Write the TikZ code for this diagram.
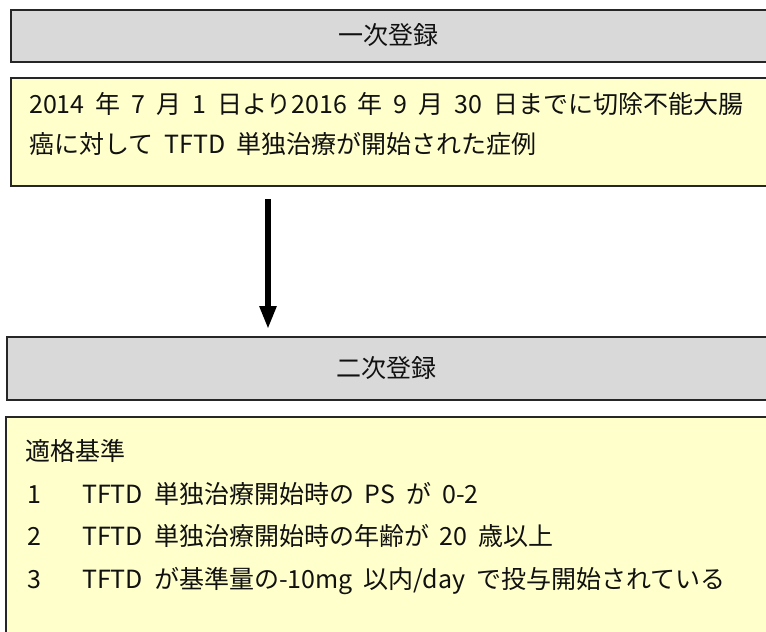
\documentclass[tikz,border=0pt]{standalone}
\usepackage{fontspec}
\setmainfont[WordSpace=1.95]{Noto Sans CJK JP}
\usetikzlibrary{arrows.meta}
\definecolor{boxgray}{HTML}{D9D9D9}
\definecolor{boxyellow}{HTML}{FFFFCC}
\definecolor{inkc}{HTML}{111111}
\begin{document}
\begin{tikzpicture}[x=1pt,y=-1pt,
  panel/.style={draw=black!85, line width=1.5pt, anchor=north west, inner sep=0pt, outer sep=0pt},
  txt/.style={font=\fontsize{25pt}{30pt}\selectfont, inner sep=0pt, text=inkc},
  flow/.style={line width=5.5pt, -{Triangle[width=16pt,length=23pt]}, shorten <=13pt, shorten >=8pt}]
\useasboundingbox (0,0) rectangle (766,632);
\clip (0,0) rectangle (766,632);
\node[panel, fill=boxgray, minimum width=780pt, minimum height=52pt] (g1) at (11,10) {};
\node[panel, fill=boxyellow, minimum width=780pt, minimum height=108pt] (y1) at (11,78) {};
\node[panel, fill=boxgray, minimum width=785pt, minimum height=63pt] (g2) at (7,337) {};
\node[panel, fill=boxyellow, minimum width=785pt, minimum height=240pt] (y2) at (6,417) {};
\node[txt, anchor=base] (h1) at (388,44) {一次登録};
\node[txt, anchor=base west] (t1) at (29,113) {2014 年 7 月 1 日より2016 年 9 月 30 日までに切除不能大腸};
\node[txt, anchor=base west] (t2) at (29,153) {癌に対して TFTD 単独治療が開始された症例};
\node[txt, anchor=base] (h2) at (386,377) {二次登録};
\node[txt, anchor=base west] (c0) at (25,460) {適格基準};
\node[txt, anchor=base west] (c1) at (27,503) {\makebox[55pt][l]{1}TFTD 単独治療開始時の PS が 0-2};
\node[txt, anchor=base west] (c2) at (27,545) {\makebox[55pt][l]{2}TFTD 単独治療開始時の年齢が 20 歳以上};
\node[txt, anchor=base west] (c3) at (27,588) {\makebox[55pt][l]{3}TFTD が基準量の-10mg 以内/day で投与開始されている};
\coordinate (ax) at (268,0);
\draw[flow] (y1.south -| ax) -- (g2.north -| ax);
\end{tikzpicture}
\end{document}
